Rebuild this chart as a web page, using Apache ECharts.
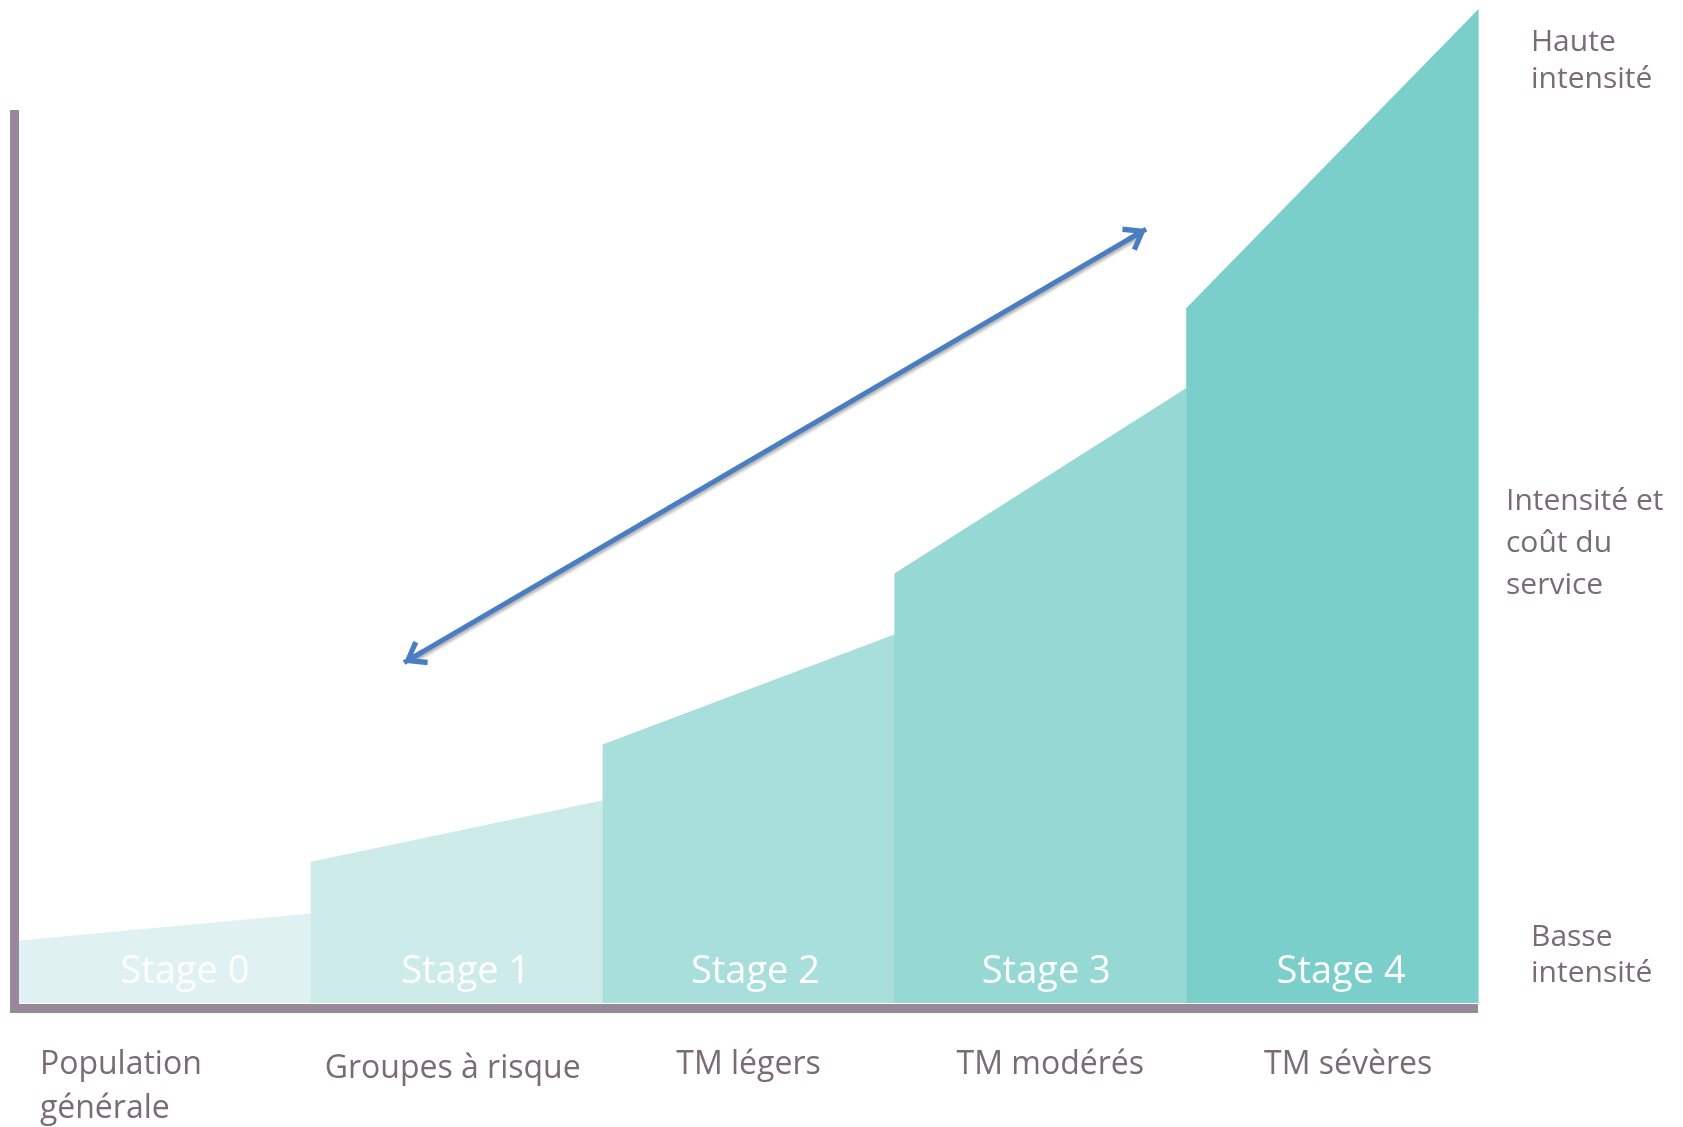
<!DOCTYPE html>
<html>
<head>
<meta charset="utf-8">
<script src="https://cdn.jsdelivr.net/npm/echarts@6/dist/echarts.min.js"></script>
<style>
html,body{margin:0;padding:0;background:#fff;}
#chart{width:1683px;height:1127px;}
</style>
</head>
<body>
<div id="chart"></div>
<script>
// ---- data ----
const categories = ['Population\ngénérale', 'Groupes à risque', 'TM légers', 'TM modérés', 'TM sévères'];
const stageNames = ['Stage 0', 'Stage 1', 'Stage 2', 'Stage 3', 'Stage 4'];
const leftValues = [6.3, 14.2, 26.0, 43.2, 69.9];
const rightValues = [9.0, 20.4, 37.1, 61.9, 100];
const sideLabels = ['Haute\nintensité', 'Intensité et\ncoût du\nservice', 'Basse\nintensité'];
const arrowStart = [1.352, 34.8];
const arrowEnd = [3.830, 77.3];

// ---- styles ----
const stageColors = ['#dff2f1', '#cdebe9', '#a8dedb', '#95d8d4', '#7bcfca'];
const stageLabelShift = [20, 9, 7, 6, 9];
const axisColor = '#978999';
const textColor = '#7a6c75';

const chart = echarts.init(document.getElementById('chart'));

const chevron = 'path://M0,0 L14,19 L9.5,22 L0,8.5 L-9.5,22 L-14,19 Z M-2.5,0 L2.5,0 L2.5,22 L-2.5,22 Z';
const lbl = { fontFamily: 'Open Sans', fontSize: 32, color: textColor, lineHeight: 44 };

chart.setOption({
  animation: false,
  backgroundColor: '#ffffff',
  grid: { left: 19, right: 205, top: 9, bottom: 124, containLabel: false, outerBoundsMode: 'none' },
  xAxis: [
    {
      type: 'category',
      data: categories,
      boundaryGap: true,
      axisLine: { show: false },
      axisTick: { show: false },
      splitLine: { show: false },
      axisLabel: {
        interval: 0,
        margin: 40,
        fontFamily: 'Open Sans',
        fontSize: 32,
        color: textColor,
        lineHeight: 44,
        formatter: function (v, i) {
          if (i === 0) return v.split('\n').map(function (s) { return '{p|' + s + '}'; }).join('\n');
          const keys = ['p', 'g', 'n', 'm', 's'];
          return '{' + keys[i] + '|' + v + '}';
        },
        rich: {
          p: Object.assign({}, lbl, { width: 170, align: 'left', padding: [0, 80, 0, 0] }),
          g: Object.assign({}, lbl, { padding: [8, 8, 0, 0] }),
          n: Object.assign({}, lbl),
          m: Object.assign({}, lbl, { padding: [0, 0, 0, 20] }),
          s: Object.assign({}, lbl, { padding: [0, 0, 0, 32] })
        }
      }
    },
    { type: 'value', min: 0, max: 5, show: false }
  ],
  yAxis: [{ type: 'value', min: 0, max: 100, show: false }],
  graphic: [
    { type: 'rect', shape: { x: 10, y: 110, width: 9, height: 903 }, style: { fill: axisColor }, z: 10 },
    { type: 'rect', shape: { x: 10, y: 1004, width: 1468, height: 9 }, style: { fill: axisColor }, z: 10 },
    { type: 'text', x: 1531, y: 24, style: { text: sideLabels[0], font: '30px "Open Sans"', fill: textColor, lineHeight: 37, verticalAlign: 'top' } },
    { type: 'text', x: 1506, y: 480, style: { text: sideLabels[1], font: '30px "Open Sans"', fill: textColor, lineHeight: 42, verticalAlign: 'top' } },
    { type: 'text', x: 1531, y: 919, style: { text: sideLabels[2], font: '30px "Open Sans"', fill: textColor, lineHeight: 36, verticalAlign: 'top' } }
  ],
  series: [
    {
      type: 'custom',
      xAxisIndex: 0,
      yAxisIndex: 0,
      data: stageNames.map(function (s, i) { return [i, leftValues[i], rightValues[i]]; }),
      renderItem: function (params, api) {
        const i = api.value(0);
        const c = api.coord([i, 0]);
        const w = api.size([1, 0])[0];
        const x0 = c[0] - w / 2, x1 = c[0] + w / 2 + 0.6;
        const yb = c[1];
        const yl = api.coord([i, api.value(1)])[1];
        const yr = api.coord([i, api.value(2)])[1];
        return {
          type: 'group',
          children: [
            { type: 'polygon', shape: { points: [[x0, yb], [x0, yl], [x1, yr], [x1, yb]] }, style: { fill: stageColors[i] } },
            { type: 'text', x: c[0] + stageLabelShift[i], y: yb - 31, style: { text: stageNames[i], fill: '#ffffff', font: 'normal 38px "Open Sans"', align: 'center', verticalAlign: 'middle' } }
          ]
        };
      }
    },
    {
      type: 'line',
      xAxisIndex: 1,
      yAxisIndex: 0,
      data: [],
      silent: true,
      markLine: {
        silent: true,
        animation: false,
        symbol: [chevron, chevron],
        symbolSize: [28, 22],
        label: { show: false },
        emphasis: { disabled: true },
        lineStyle: {
          color: '#4a7dc1', width: 5, type: 'solid',
          shadowColor: 'rgba(0,0,0,0.3)', shadowBlur: 3, shadowOffsetX: 2, shadowOffsetY: 2
        },
        data: [[{ coord: arrowStart }, { coord: arrowEnd }]]
      }
    }
  ]
});
</script>
</body>
</html>
